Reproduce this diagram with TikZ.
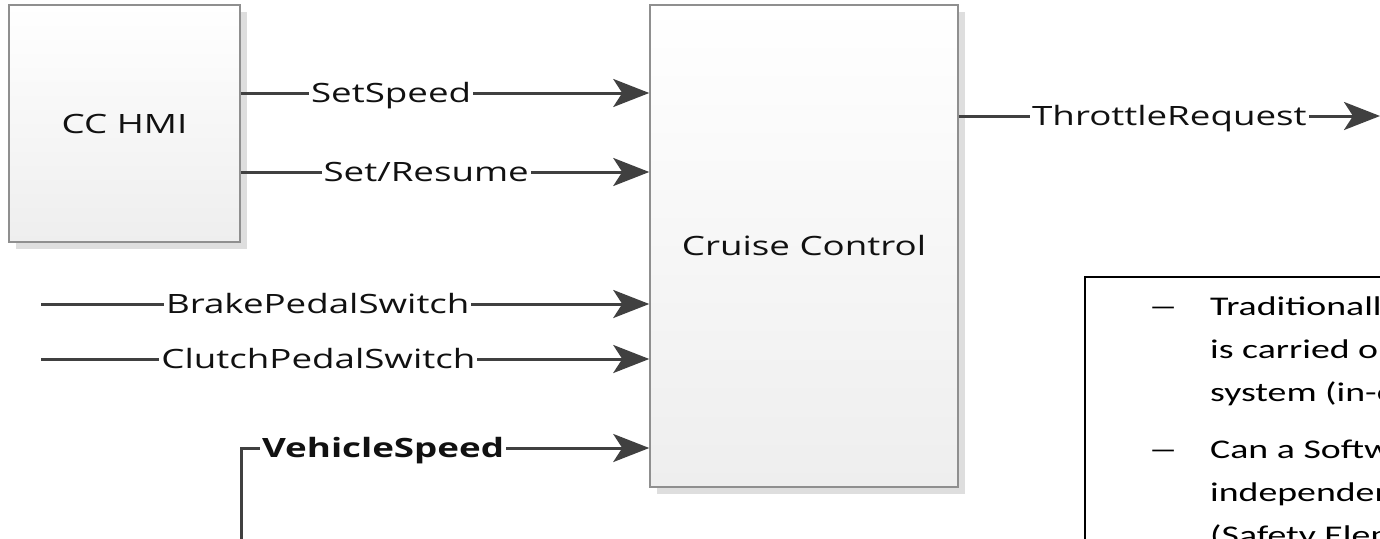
\documentclass[tikz,border=0pt]{standalone}
\usepackage{fontspec}
\usepackage{graphicx}
\usetikzlibrary{arrows.meta,shadows}
\newfontfamily\lblfont{Open Sans}[FakeStretch=1.38]
\newfontfamily\calfont{Carlito}[FakeStretch=1.4]
\definecolor{linec}{HTML}{404040}
\definecolor{boxline}{HTML}{8F8F8F}
\definecolor{boxbot}{HTML}{EEEEEE}
\definecolor{shadowc}{HTML}{DEDEDE}
\definecolor{txt}{HTML}{111111}
\tikzset{
  blockbox/.style={draw=boxline, line width=1.5pt, top color=white, bottom color=boxbot,
    drop shadow={shadow xshift=7pt, shadow yshift=-7pt, fill=shadowc, opacity=1},
    text=txt, font=\lblfont\fontsize{26.6}{30}\selectfont, inner sep=0pt},
  conn/.style={draw=linec, line width=3pt,
    -{Stealth[length=36pt, width=28pt, inset=9pt, fill=linec]}},
  sig/.style={fill=white, text=txt, inner xsep=2pt, inner ysep=0pt,
    text height=19pt, text depth=0pt,
    font=\lblfont\fontsize{26.6}{30}\selectfont},
  bodytext/.style={anchor=base west, inner sep=0pt, text=black,
    font=\calfont\fontsize{27}{32}\selectfont}
}
\begin{document}
\begin{tikzpicture}[x=1pt, y=-1pt]
\useasboundingbox (0,0) rectangle (1380,538);
\fill[white] (0,0) rectangle (1380,538);
\clip (0,0) rectangle (1380,538);

% blocks
\node[blockbox, minimum width=231pt, minimum height=237pt] (hmi) at (124.5,123.5) {CC HMI};
\node[blockbox, minimum width=308pt, minimum height=482pt] (cc) at (804,246) {Cruise Control};

% helper coordinates
\coordinate (y1) at (0,93);
\coordinate (y2) at (0,172);
\coordinate (b0) at (41,304);
\coordinate (c0) at (41,359);
\coordinate (v0) at (241,545);
\coordinate (y5) at (0,448);
\coordinate (t1) at (1380,116);

% connectors
\draw[conn] (hmi.east |- y1) -- node[sig, pos=0.368] (lss) {SetSpeed} (cc.west |- y1);
\draw[conn] (hmi.east |- y2) -- node[sig, pos=0.454] (lsr) {Set/Resume} (cc.west |- y2);
\draw[conn] (b0) -- node[sig, pos=0.455] (lbp) {BrakePedalSwitch} (cc.west |- b0);
\draw[conn] (c0) -- node[sig, pos=0.456] (lcp) {ClutchPedalSwitch} (cc.west |- c0);
\draw[conn] (v0) |- node[sig, pos=0.674, font=\lblfont\bfseries\fontsize{26.6}{30}\selectfont] (lvs) {VehicleSpeed} (cc.west |- y5);
\draw[conn] (cc.east |- t1) -- node[sig, pos=0.5] (ltr) {ThrottleRequest} (t1);

% text box
\coordinate (tbl) at (1085,560);
\coordinate (tbc) at (1085,277);
\coordinate (tbr) at (1400,277);
\draw[black, line width=2pt] (tbl) -- (tbc) -- (tbr);

\node[bodytext] (d1) at (1148,315) {\scalebox{1.6}[1]{–}};
\node[bodytext] (t1a) at (1210,315) {Traditionally};
\node[bodytext] (t1b) at (1210,358) {is carried out};
\node[bodytext] (t1c) at (1210,401) {system (in-car)};
\node[bodytext] (d2) at (1148,458) {\scalebox{1.6}[1]{–}};
\node[bodytext] (t2a) at (1210,458) {Can a Software};
\node[bodytext] (t2b) at (1210,501) {independent};
\node[bodytext] (t2c) at (1210,544) {(Safety Element};
\end{tikzpicture}
\end{document}
